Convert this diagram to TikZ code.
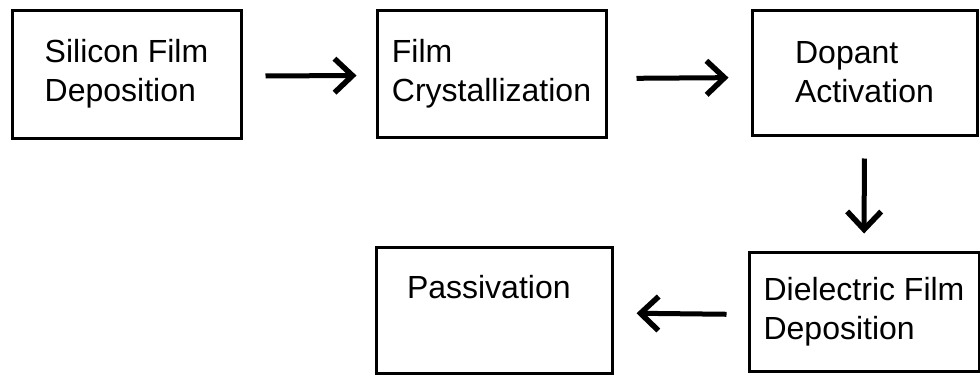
\documentclass[tikz,border=0pt]{standalone}
\usepackage{fontspec}
\setmainfont{Liberation Sans}
\usetikzlibrary{arrows.meta,positioning}

\begin{document}
\begin{tikzpicture}[x=1pt,y=-1pt,
  stepbox/.style={draw,line width=3pt,align=left,inner sep=0pt,font=\fontsize{32}{39}\selectfont},
  flow/.style={line width=5pt,-{Straight Barb[length=18pt,width=34pt,line width=5.5pt]}}]
\useasboundingbox (0,0) rectangle (980,375);
% process steps
\node[stepbox,minimum width=229pt,minimum height=128pt] (silicon) at (126.5,74) {Silicon Film\\Deposition};
\node[stepbox,minimum width=229pt,minimum height=127pt] (crystal) at (491.5,73.5) {Film\\Crystallization};
\node[stepbox,minimum width=225pt,minimum height=125pt] (dopant) at (864.5,72.5) {Dopant\\Activation};
\node[stepbox,minimum width=230pt,minimum height=119pt] (dielectric) at (864,311.5) {Dielectric Film\\Deposition};
\node[stepbox,inner xsep=31pt,text width=174pt,minimum height=126pt] (passiv) at (494,310) {Passivation\\\vphantom{Dp}};
% flow arrows
\draw[flow,shorten <=23pt,shorten >=19pt] ([yshift=-2pt]silicon.east) -- ([yshift=-2pt]crystal.west);
\draw[flow,shorten <=29pt,shorten >=22pt] ([yshift=-5pt]crystal.east) -- ([yshift=-5pt]dopant.west);
\draw[flow,shorten <=22pt,shorten >=17pt] (dopant.south) -- (dielectric.north);
\draw[flow,shorten <=21pt,shorten >=23pt] ([yshift=-3pt]dielectric.west) -- ([yshift=-3pt]passiv.east);
\end{tikzpicture}
\end{document}
